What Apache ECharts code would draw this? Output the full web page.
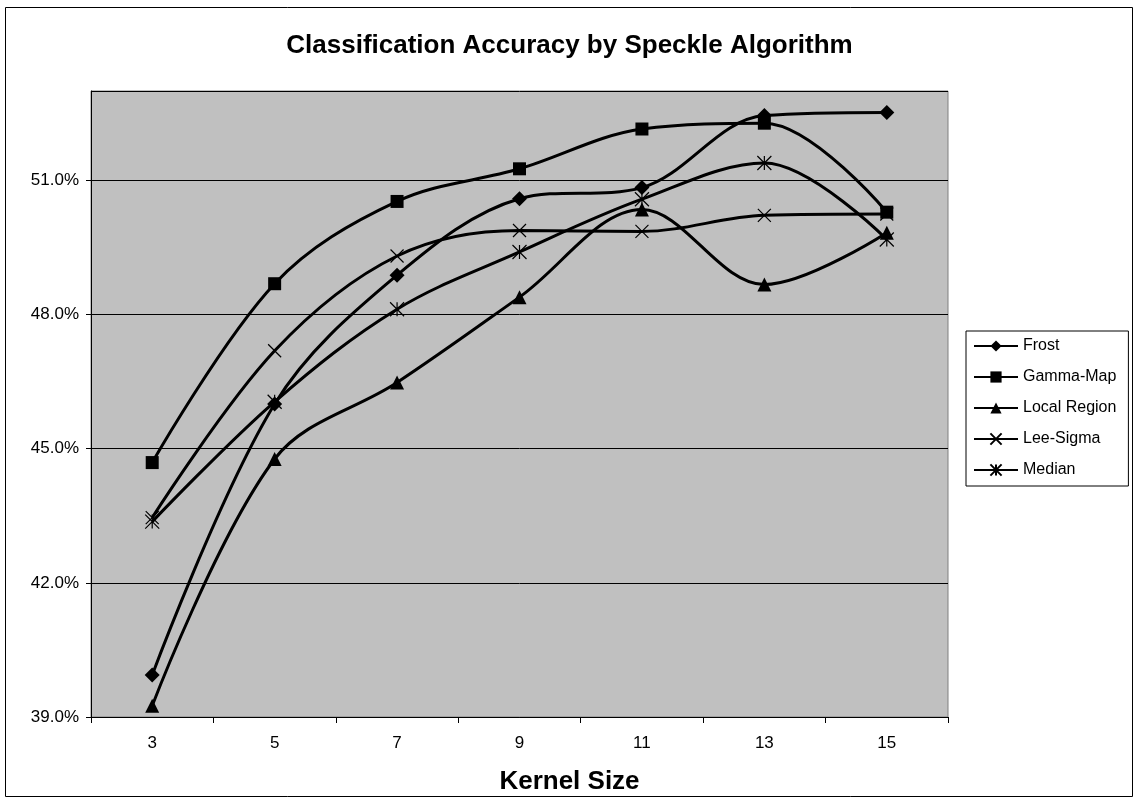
<!DOCTYPE html>
<html><head><meta charset="utf-8">
<script src="https://cdn.jsdelivr.net/npm/echarts@6/dist/echarts.min.js"></script>
<style>html,body{margin:0;padding:0;background:#fff}#c{width:1139px;height:802px}</style>
</head><body><div id="c"></div>
<script>
const categories = ['3', '5', '7', '9', '11', '13', '15'];
const seriesNames = ['Frost', 'Gamma-Map', 'Local Region', 'Lee-Sigma', 'Median'];
const frost = [39.94, 46.00, 48.88, 50.59, 50.84, 52.45, 52.52];
const gammaMap = [44.69, 48.69, 50.53, 51.26, 52.15, 52.28, 50.29];
const localRegion = [39.25, 44.77, 46.48, 48.39, 50.35, 48.67, 49.83];
const leeSigma = [43.46, 47.19, 49.31, 49.88, 49.86, 50.22, 50.25];
const median = [43.37, 46.05, 48.12, 49.40, 50.58, 51.39, 49.68];
const yMin = 39, yMax = 53, yInterval = 3;

const FONT = '"Liberation Sans", Arial, sans-serif';
const symX = 'path://M0,0L10,10M10,0L0,10';
const symAst = 'path://M5,0L5,10M0,0L10,10M10,0L0,10';
const symbols = ['diamond', 'rect', 'triangle', symX, symAst];
const sizes = [15, 13, 14, 13, 14];
const data = [frost, gammaMap, localRegion, leeSigma, median];

const chart = echarts.init(document.getElementById('c'), null, {renderer: 'canvas'});
chart.setOption({
  animation: false,
  backgroundColor: '#fff',
  title: [
    {text: 'Classification Accuracy by Speckle Algorithm', left: 'center', top: 28,
     textStyle: {fontFamily: FONT, fontSize: 26, fontWeight: 'bold', color: '#000'}},
    {text: 'Kernel Size', left: 'center', top: 764,
     textStyle: {fontFamily: FONT, fontSize: 26, fontWeight: 'bold', color: '#000'}}
  ],
  graphic: [{type: 'rect', silent: true, z: 100,
    shape: {x: 5.5, y: 7.5, width: 1127, height: 789},
    style: {fill: 'none', stroke: '#000', lineWidth: 1}}],
  grid: {left: 91, top: 91, width: 857, height: 626, show: true,
    backgroundColor: '#C0C0C0', borderColor: '#808080', borderWidth: 1},
  legend: {
    orient: 'vertical', left: 966, top: 331,
    data: seriesNames,
    itemWidth: 44, itemHeight: 14, itemGap: 15,
    padding: [7, 12, 8, 7],
    backgroundColor: '#fff', borderColor: '#000', borderWidth: 1,
    textStyle: {fontFamily: FONT, fontSize: 16, color: '#000', lineHeight: 16}
  },
  xAxis: {
    type: 'category', data: categories, boundaryGap: true,
    axisLine: {lineStyle: {color: '#000', width: 1}},
    axisTick: {show: true, length: 6, lineStyle: {color: '#000'}},
    axisLabel: {fontFamily: FONT, fontSize: 17, color: '#000', margin: 18},
    splitLine: {show: false}
  },
  yAxis: {
    type: 'value', min: yMin, max: yMax, interval: yInterval,
    axisLine: {show: true, lineStyle: {color: '#000', width: 1}},
    axisTick: {show: true, length: 5, lineStyle: {color: '#000'}},
    axisLabel: {fontFamily: FONT, fontSize: 17, color: '#000', margin: 12,
      showMaxLabel: false, formatter: v => v.toFixed(1) + '%'},
    splitLine: {show: true, lineStyle: {color: '#000', width: 1}}
  },
  series: seriesNames.map((name, i) => ({
    name, type: 'line', data: data[i], smooth: 0.35,
    symbol: symbols[i], symbolSize: sizes[i], showAllSymbol: true,
    lineStyle: {color: '#000', width: 3},
    itemStyle: {color: '#000', borderColor: '#000', borderWidth: i >= 3 ? 1.2 : 0}
  }))
});
</script></body></html>
